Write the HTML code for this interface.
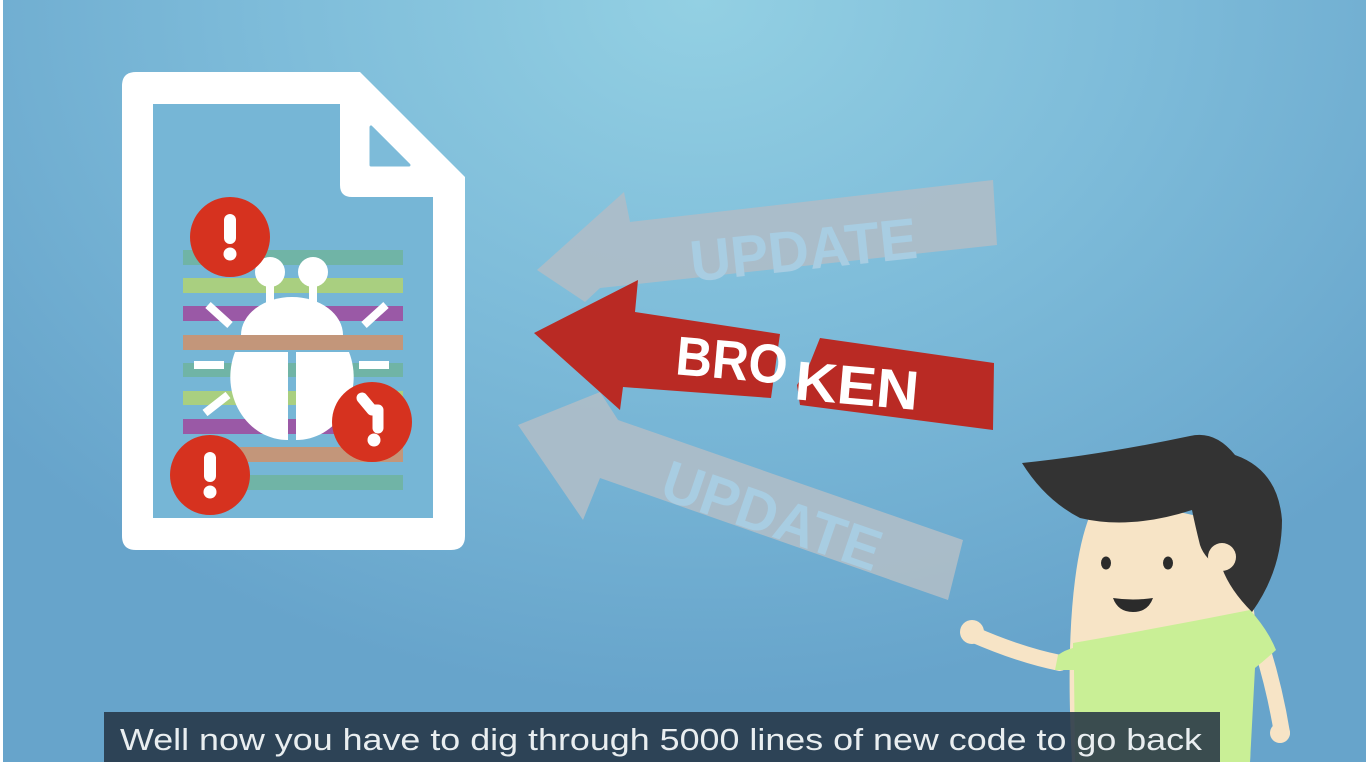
<!DOCTYPE html>
<html><head><meta charset="utf-8"><style>
html,body{margin:0;padding:0;width:1366px;height:762px;overflow:hidden}
body{background:radial-gradient(ellipse 900px 700px at 700px 0px,#93d0e3 0%,#7dbbd9 50%,#67a4cb 100%)}
svg{position:absolute;left:0;top:0}
</style></head><body>
<svg width="1366" height="762" viewBox="0 0 1366 762">
<rect x="0" y="0" width="3" height="762" fill="#ffffff"/>
<!-- document -->
<path d="M122,86 Q122,72 136,72 L360,72 L465,177 L465,536 Q465,550 451,550 L136,550 Q122,550 122,536 Z" fill="#fff"/>
<path d="M153,104 L340,104 L340,185 Q340,197 352,197 L433,197 L433,518 L153,518 Z" fill="#76b6d6"/>
<polygon points="371,127 371,165 409,165" fill="#7dbbd9" stroke="#7dbbd9" stroke-width="3" stroke-linejoin="round"/>
<!-- stripes -->
<g>
<rect x="183" y="250" width="220" height="15" fill="#70b4a6"/>
<rect x="183" y="278" width="220" height="15" fill="#a9cf80"/>
<rect x="183" y="306" width="220" height="15" fill="#9a59a6"/>
<rect x="183" y="335" width="220" height="15" fill="#c3967a"/>
<rect x="183" y="363" width="220" height="14" fill="#70b4a6"/>
<rect x="183" y="391" width="220" height="14" fill="#a9cf80"/>
<rect x="183" y="419" width="220" height="15" fill="#9a59a6"/>
<rect x="183" y="447" width="220" height="15" fill="#c3967a"/>
<rect x="183" y="475" width="220" height="15" fill="#70b4a6"/>
</g>
<!-- bug -->
<g fill="#fff" stroke="none">
<circle cx="270" cy="272" r="15"/><circle cx="313" cy="272" r="15"/>
<rect x="266" y="280" width="8" height="28"/><rect x="309" y="280" width="8" height="28"/>
<path d="M241,335 A51,38 0 0 1 343,335 Z"/>
<path d="M235,352 A57,63 0 0 0 288,440 L288,352 Z"/>
<path d="M296,352 L296,440 A57,63 0 0 0 349,352 Z"/>
</g>
<g stroke="#fff" stroke-width="8">
<line x1="208" y1="305" x2="230" y2="325"/><line x1="386" y1="305" x2="364" y2="325"/>
<line x1="194" y1="365" x2="224" y2="365"/><line x1="359" y1="365" x2="389" y2="365"/>
<line x1="205" y1="413" x2="228" y2="395"/>
</g>
<!-- red circles -->
<g>
<circle cx="230" cy="237" r="40" fill="#d6321f"/>
<rect x="224" y="214" width="12" height="30" rx="6" fill="#fff"/><circle cx="230" cy="254" r="6.5" fill="#fff"/>
<circle cx="372" cy="422" r="40" fill="#d6321f"/>
<path d="M362,398 L372,410 L378,410 L378,428" stroke="#fff" stroke-width="11" fill="none" stroke-linecap="round" stroke-linejoin="round"/><circle cx="374" cy="440" r="6.5" fill="#fff"/>
<circle cx="210" cy="475" r="40" fill="#d6321f"/>
<rect x="204" y="452" width="12" height="30" rx="6" fill="#fff"/><circle cx="210" cy="492" r="6.5" fill="#fff"/>
</g>
<!-- gray arrows -->
<polygon points="537,270 624,192 630,222 993,180 997,245 600,288 585,302" fill="#aebdc8" opacity="0.92"/>
<polygon points="518,425 600,392 618,420 963,540 948,600 600,478 583,520" fill="#aebdc8" opacity="0.92"/>
<text x="688" y="270" transform="rotate(-6 800 235)" font-family="Liberation Sans, sans-serif" font-weight="bold" font-size="58" fill="#a8cde2" textLength="228" lengthAdjust="spacingAndGlyphs">UPDATE</text>
<text x="658" y="535" transform="rotate(19 770 515)" font-family="Liberation Sans, sans-serif" font-weight="bold" font-size="58" fill="#a8cde2" textLength="228" lengthAdjust="spacingAndGlyphs">UPDATE</text>
<!-- red arrow -->
<polygon points="534,333 638,280 635,312 780,334 776,362 771,398 623,387 620,410" fill="#b92a24"/>
<polygon points="820,338 994,363 993,430 800,405 797,385 808,368" fill="#b92a24"/>
<g font-family="Liberation Sans, sans-serif" font-weight="bold" font-size="55" fill="#fff">
<text x="676" y="379" transform="rotate(5 730 360)" textLength="112" lengthAdjust="spacingAndGlyphs">BRO</text>
<text x="795" y="404" transform="rotate(5 850 385)" textLength="124" lengthAdjust="spacingAndGlyphs">KEN</text>
</g>
<!-- person -->
<g>
<path d="M1282,733 Q1275,690 1262,648" stroke="#f7e4c6" stroke-width="16" fill="none" stroke-linecap="round"/>
<circle cx="1280" cy="733" r="10" fill="#f7e4c6"/>
<path d="M972,634 Q1020,655 1060,663" stroke="#f7e4c6" stroke-width="16" fill="none" stroke-linecap="round"/>
<circle cx="972" cy="632" r="12" fill="#f7e4c6"/>
<path d="M1090,515 Q1150,500 1210,520 Q1250,560 1255,620 L1250,762 L1072,762 Q1066,650 1075,580 Q1080,540 1090,515 Z" fill="#f7e4c6"/>
<path d="M1073,643 Q1160,628 1250,610 Q1268,630 1276,650 Q1265,660 1255,668 L1250,762 L1075,762 L1074,670 L1055,670 L1058,655 Q1065,650 1073,648 Z" fill="#c9ef96"/>
<path d="M1022,463 Q1100,455 1190,436 Q1215,430 1235,455 Q1278,470 1282,520 Q1282,570 1252,612 Q1230,590 1222,568 Q1205,560 1200,545 Q1195,525 1192,510 Q1130,530 1080,518 Q1045,500 1022,463 Z" fill="#333333"/>
<circle cx="1222" cy="557" r="14" fill="#f7e4c6"/>
<ellipse cx="1106" cy="563" rx="5" ry="6.5" fill="#2b2b2b"/>
<ellipse cx="1168" cy="563" rx="5" ry="6.5" fill="#2b2b2b"/>
<path d="M1113,598 Q1133,601 1153,598 Q1148,612 1133,612 Q1118,612 1113,598 Z" fill="#2b2b2b"/>
</g>
<!-- subtitle -->
<rect x="104" y="712" width="1116" height="50" fill="#263646" opacity="0.88"/>
<text x="120" y="750" font-family="Liberation Sans, sans-serif" font-size="31" fill="#e9eef0" textLength="1082" lengthAdjust="spacingAndGlyphs">Well now you have to dig through 5000 lines of new code to go back</text>
</svg>
</body></html>
